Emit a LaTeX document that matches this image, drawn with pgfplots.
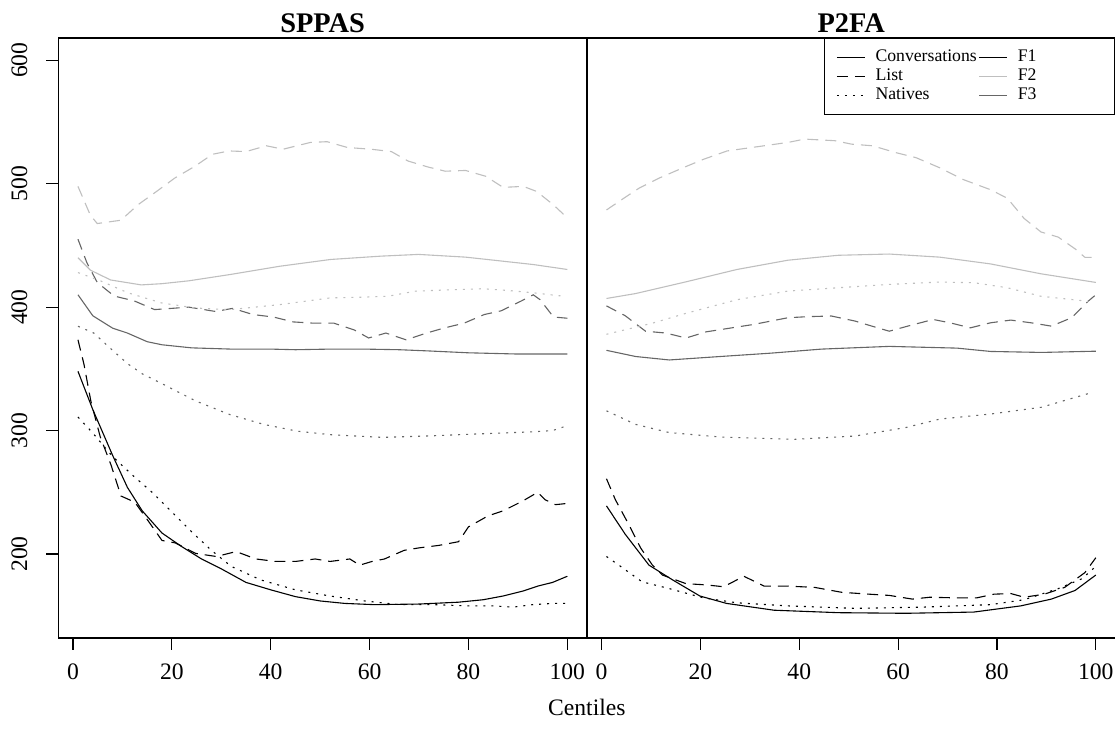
\documentclass[border=0pt]{standalone}
\usepackage{fontspec}
\setmainfont{Liberation Serif}
\usepackage{pgfplots}
\pgfplotsset{compat=1.18}
\definecolor{fone}{gray}{0}
\definecolor{ftwo}{gray}{0.75}
\definecolor{fthree}{gray}{0.4}
\tikzset{
  conv/.style={solid},
  list/.style={dash pattern=on 5.5pt off 3.5pt},
  nat/.style={dash pattern=on 1pt off 3pt},
}
\pgfplotsset{
  panel/.style={
    scale only axis, width=264.25pt, height=300pt,
    xmin=-2.96, xmax=103.96, ymin=132, ymax=618,
    xtick={0,20,...,100}, xtick pos=bottom, ytick pos=left,
    tick align=outside, major tick length=6pt,
    axis line style={line width=0.7pt}, tick style={line width=0.6pt, black},
    /pgf/number format/assume math mode=true,
    tick label style={font=\fontsize{11.8pt}{14pt}\selectfont},
    xticklabel shift=3.5pt,
    label style={font=\fontsize{11.8pt}{14pt}\selectfont},
    title style={font=\bfseries\fontsize{14.2pt}{16pt}\selectfont, at={(0.5,1)}, anchor=base, yshift=-3.5pt},
    every axis plot/.append style={line width=0.55pt},
  },
}
\begin{document}
\begin{tikzpicture}
\begin{axis}[panel, name=left, title={SPPAS},
  ytick={200,300,400,500,600},
  yticklabel style={rotate=90, anchor=south},
  yticklabel shift=6pt,
  xlabel={Centiles},
  xlabel style={at={(axis description cs:1,0)}, anchor=base, yshift=-39pt},
]
% F1
\addplot[fone, conv] coordinates {(1,348)(4,317)(8,280)(11,254)(14,235)(18,217)(22,206)(26,196)(30,188)(35,177)(40,171)(45,165.5)(50,162)(55,160)(61,159)(70,159.5)(78,161)(83,163)(87,166)(91,170)(94,174)(97,177)(100,182)};
\addplot[fone, list] coordinates {(1,373.5)(2.2,354)(3.6,324)(5.5,295)(7.7,272)(9.7,247)(12.5,242)(15,228)(18,211)(20.7,209)(24.8,200.5)(29,198)(33,202)(37,196)(41,194)(45,194)(49,196)(52,194)(56,196)(58,191)(60.5,194)(63,196)(67,203)(70,205)(74,207)(78,210)(80,222)(84,231)(87,235)(91,243)(94,250)(95.5,244)(97.6,240)(100,241)};
\addplot[fone, nat] coordinates {(1,311)(4,298)(8,279)(12,264)(16,250)(20,234)(24,218)(28,203)(32,190)(38,179)(45,171)(52,166)(59,162)(66,159)(73,159)(80,158)(85,158)(89,157)(93,159)(97,160)(100,160)};
% F3
\addplot[fthree, conv] coordinates {(1,410)(4,393)(8,383)(11,379)(15,372)(18,369.5)(24,367)(32,366)(40,366)(45,365.5)(52,366)(59,366)(66,365.5)(72,364.5)(80,363)(90,362)(100,362)};
\addplot[fthree, list] coordinates {(1,455)(2.8,436)(4.9,420)(8.3,409)(12.4,405)(16.5,398)(20,399)(23.4,400)(28.8,396.5)(32.3,399)(36.4,394)(40.5,392)(44.6,388)(48.7,387)(52.8,387)(56.9,381.5)(59.8,375)(63.3,379)(67.4,373.5)(71.5,379)(75,383)(79.1,387)(83.2,394)(86.6,397)(90.7,405)(93.1,410)(94.5,406)(97.2,392)(100,391)};
\addplot[fthree, nat] coordinates {(1,384.5)(4.2,379)(8,365)(11.1,354)(14,346)(18,338)(24.8,324)(31.7,313)(38.6,305)(45.4,299.5)(52.3,296.6)(62.6,294.5)(72.9,295.8)(80,297)(86.6,298)(93,299)(97,300)(100,304)};
% F2
\addplot[ftwo, conv] coordinates {(1,440)(3.5,430)(7.6,422)(13.8,418)(18,419)(23.4,421.3)(31.6,426.3)(41.8,433.1)(52.1,438.6)(62.3,441.3)(69.9,442.7)(79.4,440.5)(86.3,437.5)(93.1,434.5)(100,430.5)};
\addplot[ftwo, list] coordinates {(1,497.8)(3.5,474.5)(4.9,467.7)(9.7,470.4)(13.1,482.8)(17,494)(20.6,504.6)(24.7,514.2)(28.2,523.8)(31.6,526.5)(35,526)(39.1,530.7)(42.5,527.9)(48,533.4)(51.4,534)(55.5,529.3)(60.3,527.9)(64.4,526)(67.8,518.3)(71.9,513.4)(75.3,510.1)(79.4,510.7)(83.5,506)(87,497)(91.1,497.8)(93.8,493.7)(97.2,482.8)(100,472.3)};
\addplot[ftwo, nat] coordinates {(1,428)(5.6,421.2)(11.1,411.6)(17.9,403.4)(24.7,399.3)(31.6,397.9)(41.8,402)(52.1,407.5)(58,408)(63.7,408.8)(69.2,412.9)(76,414)(82.9,414.9)(88,413.5)(93.1,411.6)(99.3,408.8)};
\end{axis}
\begin{axis}[panel, name=right, at={(left.south east)}, anchor=south west, title={P2FA},
  ytick=\empty,
  legend columns=2,
  legend image code/.code={\draw[#1] (0pt,0pt) -- (14pt,0pt);},
  legend style={at={(1,1)}, anchor=north east, draw=black, line width=0.5pt,
    font=\fontsize{8.85pt}{10pt}\selectfont, inner xsep=6pt, inner ysep=4.6pt,
    row sep=0pt, cells={anchor=west},
    nodes={inner sep=1pt, text height=5.8pt, text depth=1.8pt},
    /tikz/every odd column/.style={column sep=4pt},
    /tikz/every even column/.style={column sep=0pt},
    /tikz/column 4/.style={nodes={text width=41.5pt}}},
]
\addlegendimage{fone, conv, line width=0.55pt}\addlegendentry{Conversations}
\addlegendimage{fone, conv, line width=0.55pt}\addlegendentry{F1}
\addlegendimage{fone, list, line width=0.55pt}\addlegendentry{List}
\addlegendimage{ftwo, conv, line width=0.55pt}\addlegendentry{F2}
\addlegendimage{fone, nat, line width=0.55pt}\addlegendentry{Natives}
\addlegendimage{fthree, conv, line width=0.55pt}\addlegendentry{F3}
% F1
\addplot[fone, conv] coordinates {(1,239)(4.8,216)(9.6,191)(14.4,179)(19.9,166)(25.3,160)(34.9,154.5)(47.9,152.5)(61.6,152)(75.3,153)(84.8,158)(91,163.5)(95.8,170.5)(100,183)};
\addplot[fone, list] coordinates {(1,261)(2.8,244)(5.5,224)(7.9,205)(10.3,191)(12.3,183)(17.1,176)(21.2,175)(24.7,173.5)(28.8,182)(32.9,174)(37.7,174)(43.1,173)(48.6,169)(54.1,167.5)(58.2,166.5)(62.9,163.5)(66.4,165)(71.8,164.5)(75.9,164.5)(79.4,167.5)(82.8,168)(85.5,165)(89.6,167.5)(93.7,173)(97.8,185)(100,197)};
\addplot[fone, nat] coordinates {(1,198)(3.5,191)(8.2,177.5)(13.7,172)(20.6,164.5)(27.4,160.5)(37.7,158)(51.3,156)(65,157)(78.7,159)(85.5,163)(92.4,172)(97.2,180)(100,190)};
% F3
\addplot[fthree, conv] coordinates {(1,365)(6.9,360)(13.7,357.2)(24,360)(34.2,362.7)(44.5,366)(58.2,368.2)(71.9,366.8)(78.7,364.1)(89,363.3)(100,364.3)};
\addplot[fthree, list] coordinates {(1,401)(4.8,393)(8.9,380.5)(13,379)(17.1,375)(21.2,380)(26,383)(30.8,386)(37.7,391.4)(41.8,392.3)(46.5,392.8)(51.3,388.7)(54.7,384.6)(58.2,380.5)(62.3,385)(67.1,390)(70.5,387.3)(74.6,383.2)(78.7,387.3)(82.8,389.5)(86.9,387.3)(91,384.6)(95.1,391.4)(98.5,405)(100,410)};
\addplot[fthree, nat] coordinates {(1,316)(6.9,305)(13.7,298.4)(24,294.8)(39,292.9)(51.3,295.6)(61.6,302.5)(68.4,309.3)(78.7,313.4)(89,318.9)(98.5,330)};
% F2
\addplot[ftwo, conv] coordinates {(1,407)(6.9,411)(17.1,420.5)(27.4,430.5)(37.7,438)(47.9,442)(58.2,443)(68.4,440.5)(78.7,435)(88.9,427)(100,420)};
\addplot[ftwo, list] coordinates {(1,478.7)(3.5,485.5)(7.6,496.4)(11.7,504.6)(16.5,512.9)(20.6,519.7)(25.4,526.5)(32.9,530.7)(37.7,533.4)(41.1,536.1)(47.2,534.8)(50.6,532)(54.8,530.7)(59.5,525.2)(63.6,521.1)(68.4,512.9)(73.2,503.3)(78.7,495.1)(82.1,488.2)(85.5,471.8)(88.9,460.9)(92.4,456.7)(95.8,447.2)(97.8,440.3)(100,440.3)};
\addplot[ftwo, nat] coordinates {(1,378)(10.3,387)(17.1,395)(27.4,406)(37.7,413)(47.9,415.7)(58.2,418.4)(68.4,420.3)(75.3,419.8)(82.1,415.7)(88.9,408.8)(98.5,404.7)};
\end{axis}
\pgfresetboundingbox
\path[use as bounding box] ([xshift=-29.2pt, yshift=-46.5pt]left.south west) rectangle ([xshift=528.3pt, yshift=319pt]left.south west);
\end{tikzpicture}
\end{document}
